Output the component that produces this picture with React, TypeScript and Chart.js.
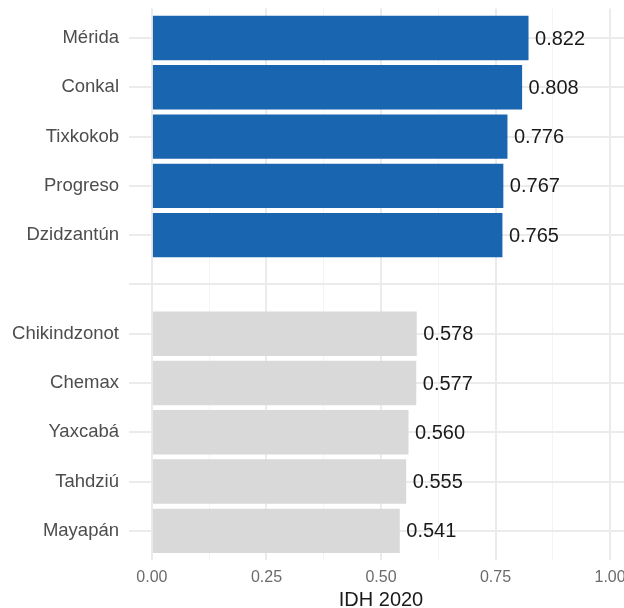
import React, { useEffect, useRef } from "react";
import { Chart, registerables } from "chart.js";

Chart.register(...registerables);

const categories: string[] = [
  "Mérida",
  "Conkal",
  "Tixkokob",
  "Progreso",
  "Dzidzantún",
  "",
  "Chikindzonot",
  "Chemax",
  "Yaxcabá",
  "Tahdziú",
  "Mayapán",
];
const values: (number | null)[] = [0.822, 0.808, 0.776, 0.767, 0.765, null, 0.578, 0.577, 0.56, 0.555, 0.541];
const groups: string[] = ["alto", "alto", "alto", "alto", "alto", "", "bajo", "bajo", "bajo", "bajo", "bajo"];
const groupColors: Record<string, string> = { alto: "#1A65B0", bajo: "#D9D9D9" };
const xTickValues: number[] = [0, 0.125, 0.25, 0.375, 0.5, 0.625, 0.75, 0.875, 1];
const axisTitle = "IDH 2020";

const FONT = '"Liberation Sans", Arial, Helvetica, sans-serif';

const isMajor = (v: number) => Math.abs(v * 4 - Math.round(v * 4)) < 1e-6;

const valueLabels = {
  id: "valueLabels",
  afterDatasetsDraw(chart: any) {
    const ctx = chart.ctx;
    const meta = chart.getDatasetMeta(0);
    const data = chart.data.datasets[0].data as any[];
    ctx.save();
    ctx.font = `20px ${FONT}`;
    ctx.fillStyle = "#1a1a1a";
    ctx.textAlign = "left";
    ctx.textBaseline = "middle";
    meta.data.forEach((el: any, i: number) => {
      const v = data[i].x as number;
      ctx.fillText(v.toFixed(3), el.x + 6.5, el.y + 1);
    });
    ctx.restore();
  },
};

export default function App() {
  const ref = useRef<HTMLCanvasElement | null>(null);

  useEffect(() => {
    if (!ref.current) return;
    const points: { x: number; y: number }[] = [];
    const colors: string[] = [];
    values.forEach((v, i) => {
      if (v !== null) {
        points.push({ x: v, y: i });
        colors.push(groupColors[groups[i]]);
      }
    });

    const chart = new Chart(ref.current, {
      type: "bar",
      data: {
        datasets: [
          {
            data: points as any,
            backgroundColor: colors,
            borderWidth: 0,
            barPercentage: 0.9,
            categoryPercentage: 1,
          },
        ],
      },
      plugins: [valueLabels],
      options: {
        indexAxis: "y",
        animation: false,
        responsive: false,
        devicePixelRatio: 1,
        layout: { padding: { top: 8.45, right: 7, bottom: 0, left: 0 } },
        plugins: {
          legend: { display: false },
          tooltip: { enabled: false },
        },
        scales: {
          x: {
            type: "linear",
            position: "bottom",
            min: -0.05,
            max: 1.05,
            afterBuildTicks: (s: any) => {
              s.ticks = xTickValues.map((v) => ({ value: v }));
            },
            afterFit: (s: any) => {
              s.height = 59.6;
              s.paddingLeft = 0;
              s.paddingRight = 0;
            },
            ticks: {
              autoSkip: false,
              maxRotation: 0,
              padding: 7.5,
              color: "#6b6b6b",
              font: { family: FONT, size: 16 },
              callback: (v: any) => (isMajor(Number(v)) ? Number(v).toFixed(2) : ""),
            },
            grid: {
              drawTicks: false,
              color: (c: any) => (c.tick && isMajor(c.tick.value) ? "#EBEBEB" : "#F4F4F4"),
              lineWidth: (c: any) => (c.tick && isMajor(c.tick.value) ? 2 : 1),
            },
            border: { display: false },
            title: {
              display: true,
              text: axisTitle,
              color: "#1a1a1a",
              font: { family: FONT, size: 20 },
              padding: { top: 0, bottom: 8 },
            },
          },
          y: {
            type: "linear",
            min: -0.6,
            max: categories.length - 1 + 0.6,
            reverse: true,
            offset: false,
            afterBuildTicks: (s: any) => {
              s.ticks = categories.map((_, i) => ({ value: i }));
            },
            afterFit: (s: any) => {
              s.width = 129;
              s.paddingTop = 0;
              s.paddingBottom = 0;
            },
            ticks: {
              autoSkip: false,
              padding: 10,
              color: "#4D4D4D",
              font: { family: FONT, size: 18.5 },
              callback: (v: any) => categories[Math.round(Number(v))] ?? "",
            },
            grid: {
              offset: false,
              drawTicks: false,
              color: "#EBEBEB",
              lineWidth: 2,
            },
            border: { display: false },
          },
        },
      } as any,
    });
    return () => chart.destroy();
  }, []);

  return (
    <div
      style={{
        position: "fixed",
        left: 0,
        top: 0,
        width: 624,
        height: 608,
        overflow: "hidden",
        background: "#ffffff",
      }}
    >
      <canvas ref={ref} width={640} height={620} style={{ width: 640, height: 620, display: "block" }} />
    </div>
  );
}
